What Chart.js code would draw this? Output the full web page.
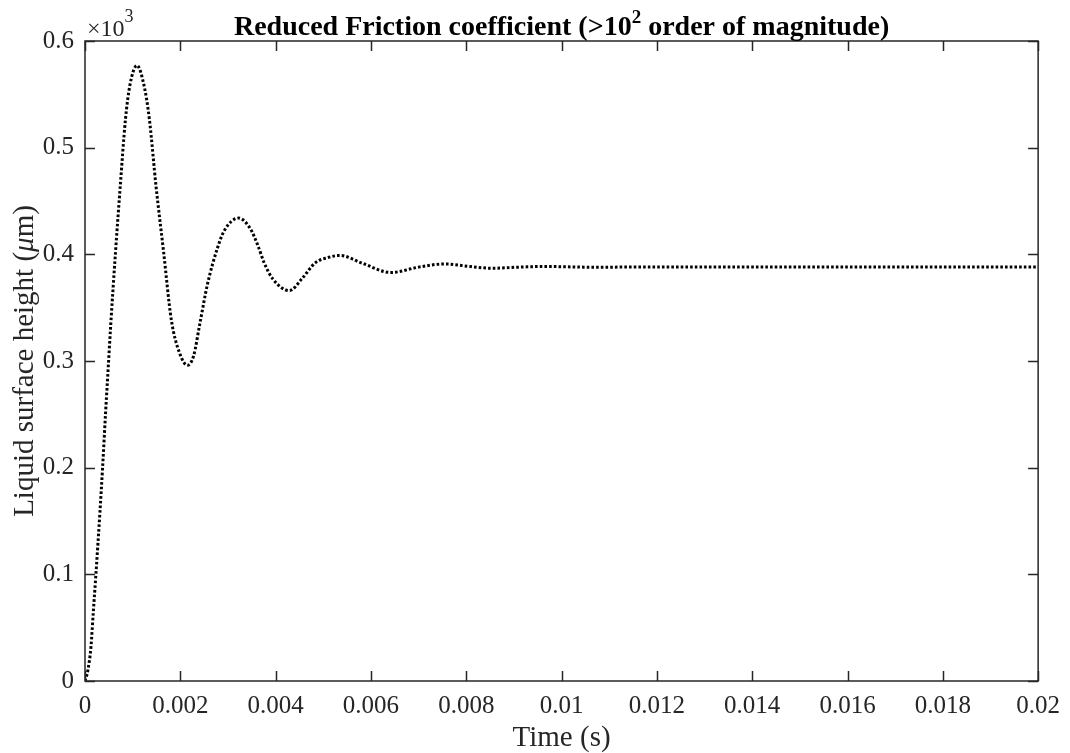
<!DOCTYPE html>
<html>
<head>
<meta charset="utf-8">
<script src="https://cdn.jsdelivr.net/npm/chart.js@4/dist/chart.umd.min.js"></script>
<style>
  html, body { margin: 0; padding: 0; background: #fff; }
  #wrap { width: 1070px; height: 753px; }
</style>
</head>
<body>
<div id="wrap"><canvas id="heightChart"></canvas></div>
<script>
// time (s) and liquid surface height (x10^3 um)
const timeSec = [
  0, 0.00006, 0.000125, 0.000173, 0.000229, 0.000313, 0.000369, 0.000431,
  0.000473, 0.00054, 0.00064, 0.00074, 0.00085, 0.00094, 0.00109, 0.00124,
  0.00135, 0.00149, 0.00165, 0.00181, 0.00198, 0.00215, 0.00228, 0.00241,
  0.00257, 0.00278, 0.00292, 0.00322, 0.00347, 0.00363, 0.00376, 0.00394,
  0.00429, 0.00455, 0.00483, 0.0051, 0.00535, 0.0058, 0.00642, 0.007, 0.00754,
  0.0081, 0.00854, 0.0091, 0.00965, 0.0107, 0.0118, 0.02
];
const heightKum = [
  0, 0.01, 0.032, 0.064, 0.1, 0.158, 0.2, 0.251,
  0.283, 0.334, 0.402, 0.464, 0.527, 0.558, 0.577, 0.558,
  0.527, 0.464, 0.402, 0.339, 0.308, 0.296, 0.305, 0.335,
  0.372, 0.406, 0.422, 0.434, 0.424, 0.408, 0.392, 0.377,
  0.366, 0.377, 0.392, 0.397, 0.399, 0.392, 0.383, 0.388, 0.391,
  0.3885, 0.3869, 0.388, 0.3886, 0.3879, 0.3882, 0.3881
];

const xTickValues = [0, 0.002, 0.004, 0.006, 0.008, 0.01, 0.012, 0.014, 0.016, 0.018, 0.02];
const xTickLabels = ["0", "0.002", "0.004", "0.006", "0.008", "0.01", "0.012", "0.014", "0.016", "0.018", "0.02"];
const yTickValues = [0, 0.1, 0.2, 0.3, 0.4, 0.5, 0.6];
const yTickLabels = ["0", "0.1", "0.2", "0.3", "0.4", "0.5", "0.6"];

const SERIF = "'Liberation Serif', 'Times New Roman', serif";
const AXIS_COLOR = "#262626";

// draw a row of text pieces (normal / italic / superscript) starting at x
function drawPieces(ctx, pieces, x, y) {
  pieces.forEach((p) => {
    ctx.font = p.font;
    ctx.fillText(p.text, x, y + (p.dy || 0));
    x += ctx.measureText(p.text).width;
  });
}
function piecesWidth(ctx, pieces) {
  let w = 0;
  pieces.forEach((p) => {
    ctx.font = p.font;
    w += ctx.measureText(p.text).width;
  });
  return w;
}

// MATLAB look: box, inward ticks on all sides, title, labels, exponent
const matlabFrame = {
  id: "matlabFrame",
  afterDraw(chart) {
    const { ctx, chartArea: a, scales } = chart;
    const x = scales.x, y = scales.y;
    ctx.save();
    ctx.strokeStyle = AXIS_COLOR;
    ctx.lineWidth = 1.5;
    ctx.strokeRect(a.left, a.top, a.right - a.left, a.bottom - a.top);
    ctx.beginPath();
    x.ticks.forEach((t) => {
      const px = Math.round(x.getPixelForValue(t.value)) + 0.5;
      ctx.moveTo(px, a.bottom); ctx.lineTo(px, a.bottom - 10);
      ctx.moveTo(px, a.top); ctx.lineTo(px, a.top + 10);
    });
    y.ticks.forEach((t) => {
      const py = Math.round(y.getPixelForValue(t.value)) + 0.5;
      ctx.moveTo(a.left, py); ctx.lineTo(a.left + 10, py);
      ctx.moveTo(a.right, py); ctx.lineTo(a.right - 10, py);
    });
    ctx.stroke();

    ctx.fillStyle = "#000";
    ctx.textBaseline = "alphabetic";
    ctx.textAlign = "left";

    // title
    const title = [
      { text: "Reduced Friction coefficient (>10", font: "bold 28px " + SERIF },
      { text: "2", font: "bold 19px " + SERIF, dy: -12 },
      { text: " order of magnitude)", font: "bold 28px " + SERIF },
    ];
    const cx = (a.left + a.right) / 2;
    drawPieces(ctx, title, cx - piecesWidth(ctx, title) / 2, 35);

    ctx.fillStyle = AXIS_COLOR;
    // exponent of y axis
    drawPieces(ctx, [
      { text: "\u00d710", font: "24px " + SERIF },
      { text: "3", font: "18px " + SERIF, dy: -14 },
    ], a.left + 2, 36);

    // x label
    const xl = [{ text: "Time (s)", font: "29px " + SERIF }];
    drawPieces(ctx, xl, cx - piecesWidth(ctx, xl) / 2, 746);

    // y label, rotated
    const yl = [
      { text: "Liquid surface height (", font: "29px " + SERIF },
      { text: "\u03bc", font: "italic 29px " + SERIF },
      { text: "m)", font: "29px " + SERIF },
    ];
    ctx.translate(33, (a.top + a.bottom) / 2);
    ctx.rotate(-Math.PI / 2);
    drawPieces(ctx, yl, -piecesWidth(ctx, yl) / 2, 0);
    ctx.restore();
  },
};

new Chart(document.getElementById("heightChart"), {
  type: "line",
  data: {
    datasets: [
      {
        data: timeSec.map((t, i) => ({ x: t, y: heightKum[i] })),
        borderColor: "#000",
        borderWidth: 3,
        borderDash: [2.6, 2.1],
        pointRadius: 0,
        cubicInterpolationMode: "monotone",
        fill: false,
      },
    ],
  },
  options: {
    responsive: true,
    maintainAspectRatio: false,
    animation: false,
    layout: { padding: { top: 41, right: 27, left: 0, bottom: 0 } },
    plugins: { legend: { display: false }, tooltip: { enabled: false } },
    scales: {
      x: {
        type: "linear",
        min: 0,
        max: 0.02,
        afterBuildTicks: (scale) => {
          scale.ticks = xTickValues.map((v) => ({ value: v }));
        },
        afterFit: (scale) => { scale.height = 72; },
        grid: { display: false, drawTicks: false },
        border: { display: false },
        ticks: {
          padding: 10,
          color: AXIS_COLOR,
          font: { family: SERIF, size: 25 },
          maxRotation: 0,
          callback: (value, index) => xTickLabels[index],
        },
      },
      y: {
        type: "linear",
        min: 0,
        max: 0.6,
        afterBuildTicks: (scale) => {
          scale.ticks = yTickValues.map((v) => ({ value: v }));
        },
        afterFit: (scale) => { scale.width = 85; },
        grid: { display: false, drawTicks: false },
        border: { display: false },
        ticks: {
          padding: 11,
          color: AXIS_COLOR,
          font: { family: SERIF, size: 25 },
          callback: (value, index) => yTickLabels[index],
        },
      },
    },
  },
  plugins: [matlabFrame],
});
</script>
</body>
</html>
